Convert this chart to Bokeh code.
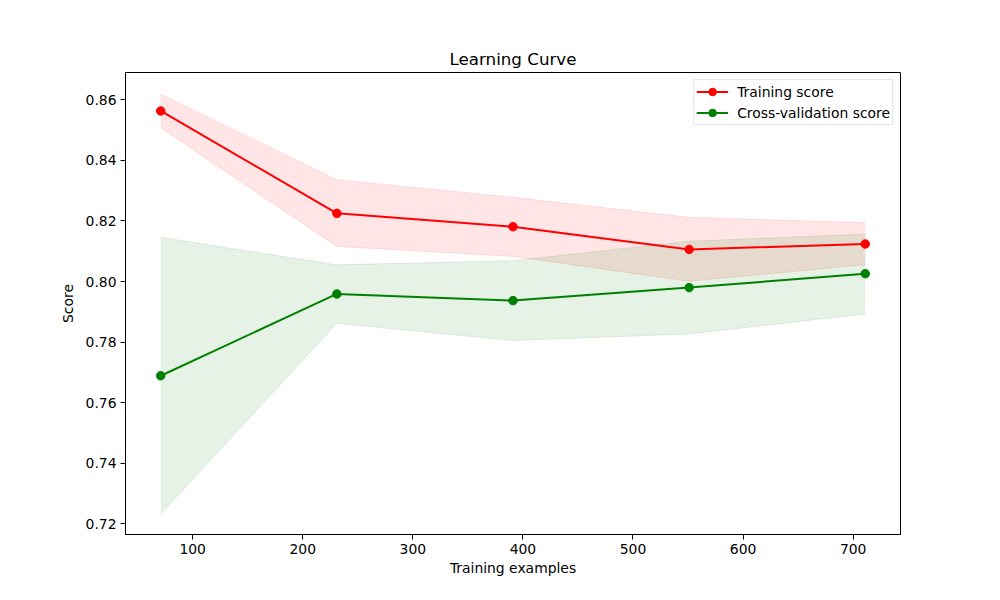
from bokeh.plotting import figure
from bokeh.models import FixedTicker, Range1d, Legend, LegendItem, ColumnDataSource, CustomJSTickFormatter
from bokeh.embed import file_html
from bokeh.resources import INLINE

train_sizes = [71, 231, 391, 551, 711]
train_mean = [0.8563, 0.8225, 0.8181, 0.8106, 0.8124]
train_upper = [0.8619, 0.8336, 0.8278, 0.8212, 0.8194]
train_lower = [0.8507, 0.8116, 0.8083, 0.8001, 0.8055]
cv_mean = [0.7689, 0.7959, 0.7937, 0.7980, 0.8026]
cv_upper = [0.8146, 0.8055, 0.8069, 0.8133, 0.8157]
cv_lower = [0.7233, 0.7862, 0.7805, 0.7827, 0.7893]
x_ticks = [100, 200, 300, 400, 500, 600, 700]
y_ticks = [0.72, 0.74, 0.76, 0.78, 0.80, 0.82, 0.84, 0.86]

FONT = "DejaVu Sans"
FS = "13.9px"

src = ColumnDataSource(dict(x=train_sizes, tm=train_mean, tu=train_upper, tl=train_lower,
                            cm=cv_mean, cu=cv_upper, cl=cv_lower))

p = figure(width=984, height=584, output_backend="svg", toolbar_location=None,
           x_range=Range1d(39, 743), y_range=Range1d(0.7165, 0.8690),
           min_border_left=125, min_border_right=84, min_border_top=72, min_border_bottom=50)

p.title.text = "Learning Curve"
p.title.align = "center"
p.title.text_font = FONT
p.title.text_font_size = "16.7px"
p.title.text_font_style = "normal"
p.title.text_color = "black"
p.title.offset = 0
p.title.standoff = 8

p.varea(x="x", y1="tl", y2="tu", source=src, fill_color="red", fill_alpha=0.1)
p.line(x="x", y="tu", source=src, line_color="red", line_alpha=0.1, line_width=1)
p.line(x="x", y="tl", source=src, line_color="red", line_alpha=0.1, line_width=1)
p.varea(x="x", y1="cl", y2="cu", source=src, fill_color="green", fill_alpha=0.1)
p.line(x="x", y="cu", source=src, line_color="green", line_alpha=0.1, line_width=1)
p.line(x="x", y="cl", source=src, line_color="green", line_alpha=0.1, line_width=1)

l1 = p.line(x="x", y="tm", source=src, line_color="red", line_width=2)
s1 = p.scatter(x="x", y="tm", source=src, size=8.5, fill_color="red", line_color="red")
l2 = p.line(x="x", y="cm", source=src, line_color="green", line_width=2)
s2 = p.scatter(x="x", y="cm", source=src, size=8.5, fill_color="green", line_color="green")

legend = Legend(items=[LegendItem(label="Training score", renderers=[l1, s1]),
                       LegendItem(label="Cross-validation score", renderers=[l2, s2])],
                location="top_right")
legend.label_text_font = FONT
legend.label_text_font_size = FS
legend.label_text_color = "black"
legend.border_line_color = "#cccccc"
legend.border_line_width = 1
legend.background_fill_alpha = 0.8
legend.glyph_width = 32
legend.glyph_height = 19
legend.label_height = 19
legend.spacing = 2
legend.padding = 2
legend.margin = 7
legend.label_standoff = 9
p.add_layout(legend, "center")

p.xgrid.visible = False
p.ygrid.visible = False
p.outline_line_color = "black"
p.outline_line_alpha = 1
p.outline_line_width = 1

p.xaxis.ticker = FixedTicker(ticks=x_ticks)
p.yaxis.ticker = FixedTicker(ticks=y_ticks)
p.yaxis.formatter = CustomJSTickFormatter(code="return tick.toFixed(2);")
p.xaxis.axis_label = "Training examples"
p.yaxis.axis_label = "Score"
for ax in (p.xaxis, p.yaxis):
    ax.axis_label_text_font = FONT
    ax.axis_label_text_font_size = FS
    ax.axis_label_text_font_style = "normal"
    ax.axis_label_text_color = "black"
    ax.major_label_text_font = FONT
    ax.major_label_text_font_size = FS
    ax.major_label_text_color = "black"
    ax.axis_line_color = "black"
    ax.major_tick_line_color = "black"
    ax.major_tick_out = 5
    ax.major_tick_in = 0
    ax.minor_tick_line_color = None
    ax.major_label_standoff = 4
p.xaxis.axis_label_standoff = 3
p.yaxis.axis_label_standoff = 7

open("out.html", "w").write(file_html(p, INLINE))
